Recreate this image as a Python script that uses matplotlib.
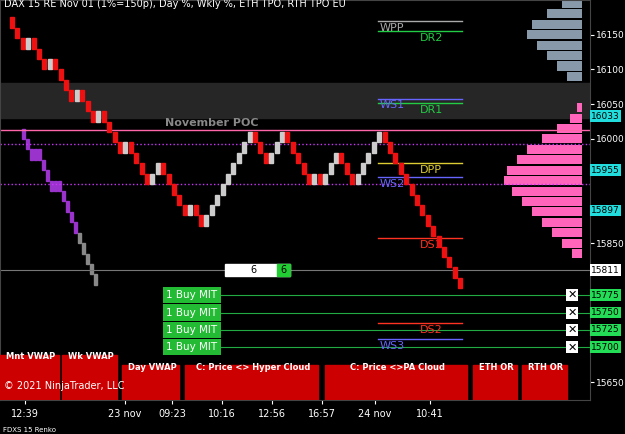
import matplotlib
matplotlib.use("Agg")
import matplotlib.pyplot as plt
from matplotlib.patches import Rectangle

closes = [16160,16145,16130,16145,16130,16115,16100,16115,16100,16085,16070,16055,16070,16055,16040,16025,16040,16025,16010,15995,15980,15995,15980,15965,15950,15935,15950,15965,15950,15935,15920,15905,15890,15905,15890,15875,15890,15905,15920,15935,15950,15965,15980,15995,16010,15995,15980,15965,15980,15995,16010,15995,15980,15965,15950,15935,15950,15935,15950,15965,15980,15965,15950,15935,15950,15965,15980,15995,16010,15995,15980,15965,15950,15935,15920,15905,15890,15875,15860,15845,15830,15815,15800,15785]
prior = [16000,15985,15970,15985,15970,15955,15940,15925,15940,15925,15910,15895,15880,15865,15850,15835,15820,15805,15790]
levels = [("WPP",16170,"#aaaaaa"),("DR2",16155,"#22cc44"),("WS1",16058,"#6666ff"),("DR1",16052,"#22cc44"),
          ("DPP",15965,"#ddcc33"),("WS2",15945,"#6666ff"),("DS1",15857,"#ff3322"),("DS2",15735,"#ff3322"),("WS3",15712,"#6666ff")]
orders = [15775,15750,15725,15700]
right_cyan = [16033,15955,15897]
price_ticks = [15650,15850,16000,16050,16100,16150]
time_labels = ["12:39","23 nov","09:23","10:16","12:56","16:57","24 nov","10:41"]
time_pos = [25,125,172,222,272,322,375,430]
buttons = [("Mnt VWAP",0,62),("Wk VWAP",62,58),("Day VWAP",122,60),("C: Price <> Hyper Cloud",185,136),("C: Price <>PA Cloud",325,145),("ETH OR",473,47),("RTH OR",522,48)]
prof_gray_p = [16195,16180,16165,16150,16135,16120,16105,16090]
prof_gray_w = [20,35,50,55,45,35,25,15]
prof_pink_p = [16045,16030,16015,16000,15985,15970,15955,15940,15925,15910,15895,15880,15865,15850,15835]
prof_pink_w = [5,12,25,40,55,65,75,78,70,60,50,40,30,20,10]

def box(ax, v, fc, txt=None):
    ax.text(591, v, txt or str(v), color="black", fontsize=6.5, va="center", clip_on=False,
            bbox=dict(boxstyle="square,pad=0.15", fc=fc, ec="none"))

fig = plt.figure(figsize=(6.25,4.34), dpi=100, facecolor="black")
ax = fig.add_axes([0,0.078,0.944,0.922], facecolor="black")
ax.set_xlim(0,590); ax.set_ylim(15624,16200)
ax.axhspan(16030,16080,color="#262626",zorder=0)
for p,w in zip(prof_gray_p,prof_gray_w):
    ax.barh(p,w,height=13,left=582-w,color="#8899aa",zorder=1)
for p,w in zip(prof_pink_p,prof_pink_w):
    ax.barh(p,w,height=13,left=582-w,color="#ff66bb",zorder=1)
ax.axhline(16013,color="#ff66aa",lw=1); ax.axhline(15993,color="#cc33ff",lw=1,ls=":")
ax.axhline(15935,color="#cc33ff",lw=1,ls=":"); ax.axhline(15811,color="#777777",lw=0.8)
ax.text(165,16019,"November POC",color="#888888",fontsize=8,fontweight="bold")
for name,v,c in levels:
    ax.plot([378,462],[v,v],color=c,lw=1)
    ax.text(380 if name.startswith("W") else 420,v-14,name,color=c,fontsize=8)
for i,v in enumerate(prior):
    p = (prior[0]+15) if i==0 else prior[i-1]
    x = 22+i*4
    ax.add_patch(Rectangle((x,min(p,v)),3,abs(v-p),color="#9933cc" if i<14 else "#888888"))
for i,v in enumerate(closes):
    p = (closes[0]+15) if i==0 else closes[i-1]
    x = 10+i*5.4
    col = "#ee1111" if v<p else "#cccccc"
    ax.add_patch(Rectangle((x,min(p,v)),4,abs(v-p),color=col,zorder=3))
for k,v in enumerate(orders):
    ax.plot([165,590],[v,v],color="#22aa44",lw=0.8)
    ax.text(192,v,"1 Buy MIT",color="white",fontsize=7.5,va="center",ha="center",
            bbox=dict(boxstyle="square,pad=0.3",fc="#22bb33",ec="none"))
    ax.text(572,v,"✕",color="black",fontsize=8,va="center",ha="center",
            bbox=dict(boxstyle="square,pad=0.1",fc="white",ec="none"))
    box(ax, v, "#22dd55")
for v in right_cyan:
    box(ax, v, "#22dddd")
box(ax, 15811, "white")
ax.add_patch(Rectangle((225,15802),65,18,color="white",zorder=4))
ax.add_patch(Rectangle((277,15802),13,18,color="#22cc33",zorder=5))
ax.text(250,15811,"6",color="black",fontsize=7,va="center",zorder=6)
ax.text(280,15811,"6",color="black",fontsize=7,va="center",zorder=6)
for lab,x0,w in buttons:
    ax.add_patch(Rectangle((x0,15624),w-3,50 if x0>100 else 65,color="#cc0000",zorder=4))
    ax.text(x0+w/2,15668 if x0>100 else 15683,lab,color="white",fontsize=6,fontweight="bold",ha="center",zorder=5)
ax.text(4,15640,"© 2021 NinjaTrader, LLC",color="white",fontsize=7,zorder=6)
ax.text(4,16190,"DAX 15 RE Nov 01 (1%=150p), Day %, Wkly %, ETH TPO, RTH TPO EU",color="white",fontsize=7)
ax.yaxis.tick_right()
ax.set_yticks(price_ticks); ax.set_xticks(time_pos); ax.set_xticklabels(time_labels)
ax.tick_params(colors="white",labelsize=7,length=3)
ax.tick_params(axis="y",labelsize=6.5,pad=1)
for s in ax.spines.values(): s.set_color("#444444")
fig.text(0.005,0.005,"FDXS 15 Renko",color="white",fontsize=5)
fig.savefig("out.png",dpi=100,facecolor="black")
